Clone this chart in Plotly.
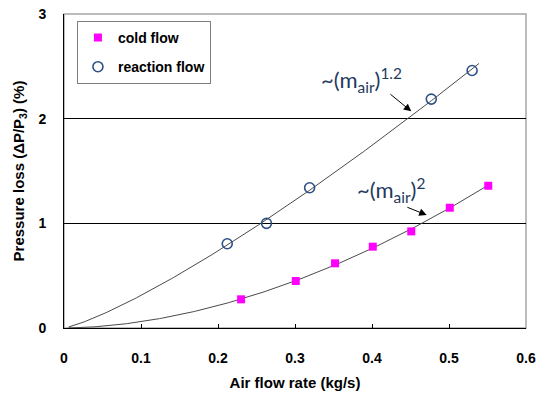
import numpy as np
import plotly.graph_objects as go

# Measured pressure loss vs. air flow rate
cold_x = [0.230, 0.301, 0.352, 0.401, 0.451, 0.501, 0.551]
cold_y = [0.274, 0.449, 0.618, 0.777, 0.923, 1.149, 1.359]
react_x = [0.212, 0.263, 0.319, 0.477, 0.530]
react_y = [0.805, 1.000, 1.340, 2.187, 2.460]

x_ticks = [0, 0.1, 0.2, 0.3, 0.4, 0.5, 0.6]
x_labels = ["0", "0.1", "0.2", "0.3", "0.4", "0.5", "0.6"]
y_ticks = [0, 1, 2, 3]
y_labels = ["0", "1", "2", "3"]


def power_fit(xs, ys):
    """Least-squares power-law trendline y = a * x**b (log-log fit)."""
    b, ln_a = np.polyfit(np.log(xs), np.log(ys), 1)
    return np.exp(ln_a), b


NAVY = "#2F5085"
MAGENTA = "#FF00FF"
TXT = "#1F3A60"
SANS = "Liberation Sans, Arial, sans-serif"

fig = go.Figure()

# trendlines
for xs, ys, x_end in [(cold_x, cold_y, 0.552), (react_x, react_y, 0.539)]:
    a, b = power_fit(xs, ys)
    xx = np.linspace(0.006, x_end, 200)
    fig.add_trace(go.Scatter(x=xx, y=a * xx ** b, mode="lines",
                             line=dict(color="#4a4a4a", width=1),
                             showlegend=False, hoverinfo="skip"))

fig.add_trace(go.Scatter(x=cold_x, y=cold_y, mode="markers", name="cold flow",
                         legendgroup="cold",
                         marker=dict(symbol="square", size=8, color=MAGENTA)))
fig.add_trace(go.Scatter(x=react_x, y=react_y, mode="markers", name="reaction flow",
                         legendgroup="react",
                         marker=dict(symbol="circle-open", size=10,
                                     color=NAVY, line=dict(width=1.6, color=NAVY))))

# gray plot-area frame
fig.add_shape(type="rect", xref="paper", yref="paper", x0=0, y0=0, x1=1, y1=1,
              line=dict(color="#a6a6a6", width=1.5), layer="below")

ann_font = dict(family="Lato, Open Sans, sans-serif", size=22, color=TXT)
fig.add_annotation(x=0.451, y=2.07, ax=0.422, ay=2.245, xref="x", yref="y",
                   axref="x", ayref="y", text="", showarrow=True,
                   arrowhead=2, arrowsize=1.5, arrowwidth=1, arrowcolor="black")
fig.add_annotation(x=0.386, y=2.37, xref="x", yref="y", showarrow=False,
                   text="~(m<sub>air</sub>)<sup>1.2</sup>", font=ann_font)
fig.add_annotation(x=0.471, y=1.079, ax=0.444, ay=1.159, xref="x", yref="y",
                   axref="x", ayref="y", text="", showarrow=True,
                   arrowhead=2, arrowsize=1.5, arrowwidth=1, arrowcolor="black")
fig.add_annotation(x=0.425, y=1.32, xref="x", yref="y", showarrow=False,
                   text="~(m<sub>air</sub>)<sup>2</sup>", font=ann_font)

tick_font = dict(family=SANS, size=14, color="black")
title_font = dict(family=SANS, size=15, color="black")

fig.update_layout(
    width=537, height=396,
    margin=dict(l=64, r=11, t=14, b=68),
    paper_bgcolor="white", plot_bgcolor="white",
    font=dict(family=SANS),
    legend=dict(x=0.028, y=0.978, xanchor="left", yanchor="top",
                bgcolor="white", bordercolor="#7f7f7f", borderwidth=1,
                font=dict(family=SANS, size=14, color="black", weight="bold"),
                tracegroupgap=8),
    xaxis=dict(range=[0, 0.6], tickvals=x_ticks,
               ticktext=["<b>%s</b>" % t for t in x_labels],
               ticks="inside", ticklen=4, tickcolor="black",
               showline=True, linecolor="black", linewidth=1,
               showgrid=False, zeroline=False, automargin=False,
               tickfont=tick_font, ticklabelstandoff=17,
               title=dict(text="<b>Air flow rate (kg/s)</b>", font=title_font, standoff=12)),
    yaxis=dict(range=[0, 3], tickvals=y_ticks,
               ticktext=["<b>%s</b>" % t for t in y_labels],
               ticks="", showline=True, linecolor="black", linewidth=1,
               showgrid=True, gridcolor="black", gridwidth=1, zeroline=False,
               automargin=False,
               tickfont=tick_font, ticklabelstandoff=14,
               title=dict(text="<b>Pressure loss (ΔP/P<sub>3</sub>) (%)</b>",
                          font=title_font, standoff=10)),
)

fig.write_html("out.html")
